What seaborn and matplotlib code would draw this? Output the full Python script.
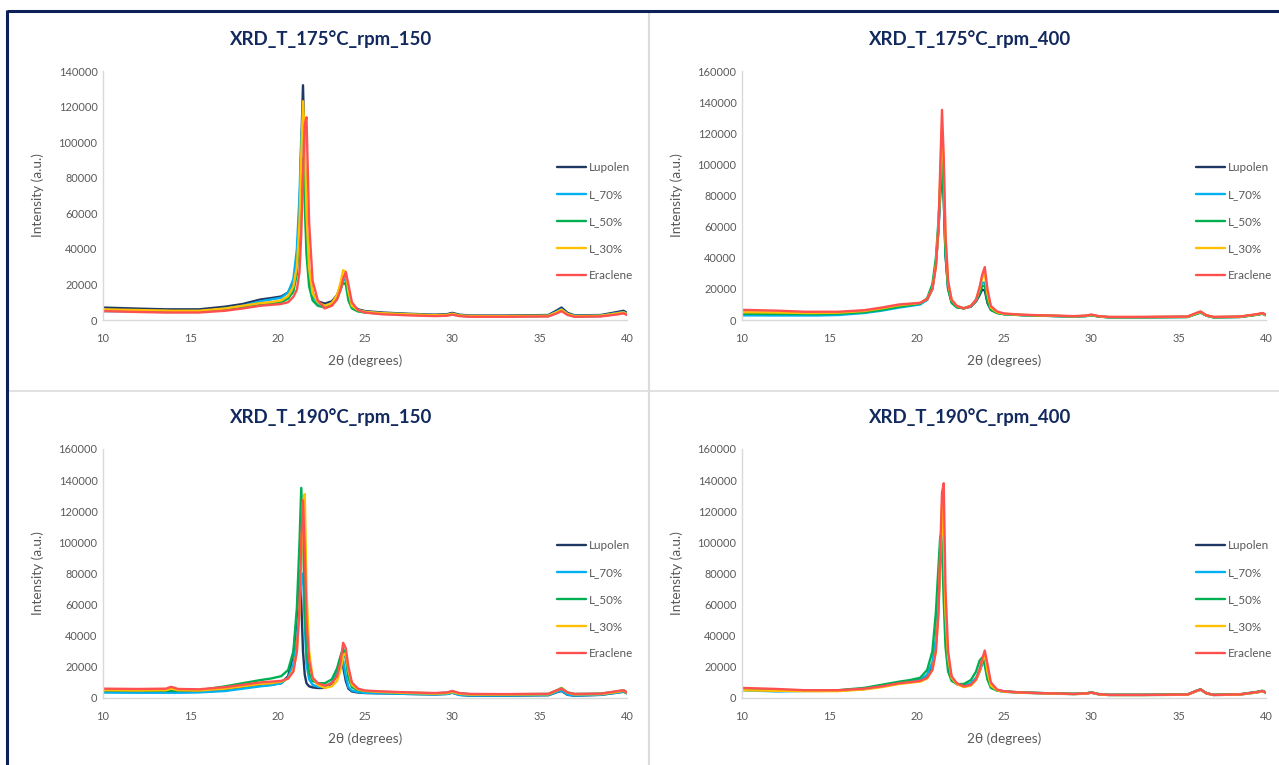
import matplotlib
matplotlib.use("Agg")
import matplotlib.pyplot as plt
from matplotlib.lines import Line2D
import pandas as pd
import seaborn as sns

# Diffraction angle grid (2θ, degrees) shared by every pattern
two_theta = [10, 12, 13.6, 13.9, 14.3, 15.5, 17, 18, 19, 19.6,
             20.2, 20.6, 20.9, 21.1, 21.25, 21.35, 21.45, 21.55, 21.65, 21.8, 22.0, 22.3,
             22.7, 23.1, 23.4, 23.6, 23.75, 23.9, 24.05, 24.25, 24.6, 25,
             26, 27.5, 29, 29.7, 30, 30.4, 31, 33, 35.5, 36, 36.25, 36.6, 37, 38.5, 39.5, 39.8, 40]

samples = ["Lupolen", "L_70%", "L_50%", "L_30%", "Eraclene"]
sample_colors = ["#1f3864", "#00b0f0", "#00b050", "#ffc000", "#ff5050"]

# Intensities in thousands of counts
# --- T = 175 °C, 150 rpm ---
lup_175_150 = [7.0, 6.4, 6.0, 6.0, 6.0, 6.0, 7.5, 9.0, 11.5, 12.3,
               13.2, 15.5, 21, 34, 60, 98, 132, 92, 52, 27, 15, 10.5,
               9.2, 10.5, 14, 19, 24, 25.5, 15, 8.5, 6.0, 5.0,
               4.2, 3.5, 3.0, 3.3, 4.0, 3.0, 2.5, 2.5, 2.8, 5.5, 7.0, 4.0, 2.6, 2.8, 4.6, 5.2, 4.0]
l70_175_150 = [5.0, 4.8, 4.5, 4.5, 4.5, 4.6, 6.5, 8.0, 10.5, 11.5,
               12.5, 15.5, 23, 40, 70, 103, 112, 78, 44, 23, 13, 9.5,
               8.0, 9.5, 13, 18, 22, 23, 14, 8.0, 5.5, 4.6,
               3.8, 3.2, 2.7, 2.9, 3.5, 2.6, 2.2, 2.2, 2.4, 4.8, 6.0, 3.5, 2.3, 2.5, 4.0, 4.5, 3.5]
l50_175_150 = [5.5, 5.3, 5.0, 5.0, 5.0, 5.0, 6.0, 7.0, 8.5, 9.0,
               10, 12, 16, 26, 48, 80, 91, 66, 37, 19, 11, 8.0,
               7.0, 8.5, 12, 17, 21, 20, 11, 6.5, 4.8, 4.2,
               3.5, 3.0, 2.5, 2.7, 3.3, 2.4, 2.0, 2.0, 2.2, 4.3, 5.5, 3.2, 2.0, 2.2, 3.5, 4.0, 3.0]
l30_175_150 = [6.0, 5.6, 5.3, 5.2, 5.2, 5.2, 6.5, 8.0, 9.5, 10.0,
               11, 13.5, 19, 30, 55, 92, 123, 104, 60, 29, 15, 10,
               8.0, 9.5, 14, 21, 28, 27, 16, 8.0, 5.5, 4.6,
               3.8, 3.2, 2.7, 2.9, 3.5, 2.6, 2.2, 2.2, 2.4, 4.5, 5.8, 3.3, 2.2, 2.4, 3.8, 4.3, 3.3]
era_175_150 = [5.0, 4.5, 4.2, 4.2, 4.2, 4.2, 5.2, 6.5, 8.0, 8.5,
               9.0, 10, 13, 17, 27, 48, 82, 110, 114, 55, 22, 11,
               6.5, 8.0, 11.5, 17, 23, 27, 20, 10, 5.5, 4.2,
               3.2, 2.6, 2.2, 2.4, 3.0, 2.2, 1.8, 1.8, 2.0, 3.8, 5.0, 2.8, 1.8, 2.0, 3.2, 3.8, 2.8]

# --- T = 175 °C, 400 rpm ---
lup_175_400 = [4.5, 4.3, 4.1, 4.1, 4.1, 4.3, 5.5, 7.0, 9.0, 9.8,
               10.5, 13, 20, 36, 58, 80, 99, 78, 42, 20, 11.5, 8.5,
               7.5, 8.5, 12, 16, 19.5, 19, 11, 6.5, 4.6, 3.8,
               3.2, 2.7, 2.3, 2.6, 3.2, 2.3, 1.8, 1.8, 2.0, 4.0, 5.0, 2.8, 1.8, 2.0, 3.5, 4.2, 3.2]
l70_175_400 = [3.0, 2.9, 2.9, 2.9, 2.9, 3.2, 4.5, 6.0, 8.0, 9.0,
               10, 13, 20, 36, 60, 85, 108, 84, 45, 21, 12, 8.5,
               7.5, 9.0, 13, 19, 24, 24, 13, 7.0, 4.8, 3.8,
               3.2, 2.7, 2.3, 2.6, 3.2, 2.3, 1.8, 1.8, 2.0, 4.0, 5.0, 2.8, 1.8, 2.0, 3.5, 4.2, 3.2]
l50_175_400 = [4.0, 3.9, 3.8, 3.8, 3.8, 4.0, 5.0, 6.5, 8.5, 9.5,
               10.5, 14, 23, 40, 64, 86, 103, 78, 42, 20, 11, 8.0,
               7.5, 9.0, 12.5, 17, 22, 22, 12, 6.5, 4.5, 3.7,
               3.1, 2.6, 2.2, 2.5, 3.1, 2.2, 1.7, 1.7, 1.9, 3.8, 4.8, 2.7, 1.7, 1.9, 3.4, 4.0, 3.0]
l30_175_400 = [5.0, 4.8, 4.5, 4.5, 4.5, 4.7, 5.8, 7.5, 9.5, 10.2,
               11, 13.5, 20, 35, 60, 92, 124, 98, 52, 24, 13, 9.0,
               7.5, 9.0, 13, 20, 27, 30, 17, 8.0, 5.0, 4.0,
               3.3, 2.8, 2.4, 2.7, 3.3, 2.4, 1.9, 1.9, 2.1, 4.2, 5.2, 2.9, 1.9, 2.1, 3.6, 4.3, 3.3]
era_175_400 = [6.5, 6.0, 5.3, 5.3, 5.3, 5.3, 6.3, 8.0, 10.0, 10.5,
               11, 13.5, 20, 34, 60, 98, 135, 104, 55, 25, 13, 9.0,
               7.5, 9.0, 13, 21, 29, 34, 20, 9.0, 5.5, 4.2,
               3.4, 2.9, 2.5, 2.8, 3.5, 2.5, 2.0, 2.0, 2.2, 4.5, 5.5, 3.0, 2.0, 2.2, 3.8, 4.5, 3.4]

# --- T = 190 °C, 150 rpm ---
lup_190_150 = [4.0, 3.8, 3.8, 3.8, 3.8, 4.0, 5.0, 6.5, 8.0, 8.5,
               9.5, 14, 28, 52, 82, 62, 30, 15, 9.5, 7.5, 6.8, 6.4,
               6.5, 9.0, 16, 23, 20, 11, 6.0, 4.2, 3.5, 3.2,
               3.0, 2.6, 2.3, 2.6, 3.4, 2.0, 1.5, 1.5, 1.8, 3.8, 4.5, 2.0, 1.5, 2.0, 3.5, 4.0, 3.0]
l70_190_150 = [3.5, 3.4, 3.4, 3.4, 3.4, 3.6, 4.5, 6.0, 7.5, 8.2,
               9.5, 13, 22, 38, 58, 76, 80, 48, 22, 12, 8.5, 7.2,
               7.0, 10, 17, 26, 24, 14, 7.0, 4.8, 3.8, 3.3,
               3.0, 2.6, 2.3, 2.6, 3.4, 2.0, 1.6, 1.6, 1.9, 4.0, 4.8, 2.2, 1.6, 2.1, 3.6, 4.2, 3.1]
l50_190_150 = [5.0, 4.8, 4.8, 4.8, 4.8, 5.0, 7.5, 9.5, 11.5, 12.5,
               14, 18, 30, 58, 100, 135, 105, 58, 30, 16, 11, 9.5,
               9.5, 12, 19, 27, 32, 25, 13, 7.0, 5.0, 4.5,
               4.0, 3.4, 3.0, 3.4, 4.2, 3.0, 2.5, 2.4, 2.6, 5.0, 6.5, 3.5, 2.6, 2.8, 4.3, 5.0, 3.5]
l30_190_150 = [5.0, 4.8, 5.0, 6.0, 5.0, 4.8, 6.0, 7.5, 9.0, 9.5,
               10.5, 12.5, 18, 30, 56, 92, 126, 131, 70, 30, 13, 8.5,
               6.5, 7.5, 11, 18, 27, 29, 18, 8.5, 5.5, 4.5,
               3.8, 3.2, 2.8, 3.1, 3.9, 2.7, 2.2, 2.2, 2.4, 4.8, 6.2, 3.4, 2.3, 2.5, 4.0, 4.7, 3.4]
era_190_150 = [6.0, 5.8, 6.0, 7.2, 5.8, 5.6, 7.0, 8.5, 10.0, 10.5,
               11, 12.5, 17, 30, 58, 100, 127, 95, 50, 24, 13, 9.5,
               8.0, 9.5, 14, 23, 35.5, 32, 20, 10, 6.0, 4.8,
               4.2, 3.6, 3.2, 3.6, 4.5, 3.2, 2.6, 2.5, 2.7, 5.0, 6.0, 3.5, 2.6, 2.8, 4.5, 5.0, 3.6]

# --- T = 190 °C, 400 rpm ---
lup_190_400 = [5.5, 5.0, 4.8, 4.8, 4.8, 4.8, 5.8, 7.5, 9.5, 10.5,
               11.5, 14, 20, 34, 60, 90, 113, 90, 50, 24, 13, 9.0,
               7.5, 8.5, 12, 17, 22, 24, 14, 7.5, 5.0, 4.2,
               3.5, 3.0, 2.6, 2.9, 3.5, 2.5, 2.0, 2.0, 2.2, 4.5, 5.5, 3.0, 2.0, 2.3, 3.8, 4.5, 3.4]
l70_190_400 = [5.0, 4.2, 4.5, 4.5, 4.5, 4.7, 5.8, 7.5, 9.5, 10.5,
               11.5, 15, 23, 38, 63, 92, 109, 86, 48, 23, 12.5, 9.0,
               8.0, 9.5, 13, 18, 22.5, 23, 13, 7.0, 4.8, 4.0,
               3.4, 2.9, 2.5, 2.8, 3.4, 2.4, 1.9, 1.9, 2.1, 4.3, 5.3, 2.9, 1.9, 2.2, 3.6, 4.3, 3.3]
l50_190_400 = [5.5, 5.0, 4.8, 4.8, 4.8, 5.0, 6.5, 8.5, 10.5, 11.5,
               13, 18, 30, 55, 85, 104, 98, 62, 33, 17, 11, 9.0,
               9.0, 11.5, 17, 24, 26, 21, 12, 6.5, 4.8, 4.2,
               3.6, 3.1, 2.7, 3.0, 3.7, 2.6, 2.1, 2.1, 2.3, 4.6, 5.6, 3.1, 2.1, 2.4, 4.0, 4.7, 3.5]
l30_190_400 = [5.0, 4.6, 4.4, 4.4, 4.4, 4.4, 5.5, 7.0, 9.0, 9.8,
               10.5, 12.5, 18, 30, 56, 92, 124, 100, 55, 26, 13, 9.0,
               7.0, 8.0, 11.5, 17, 24, 28, 17, 8.0, 5.0, 4.0,
               3.4, 2.9, 2.5, 2.8, 3.4, 2.4, 1.9, 1.9, 2.1, 4.3, 5.3, 2.9, 1.9, 2.2, 3.6, 4.3, 3.3]
era_190_400 = [6.5, 5.8, 5.0, 5.0, 5.0, 5.0, 6.0, 7.5, 9.5, 10.2,
               11, 13, 18, 30, 55, 95, 132, 138, 70, 30, 14, 9.5,
               7.5, 8.5, 12, 18, 25, 30.5, 22, 10, 5.5, 4.3,
               3.5, 3.0, 2.6, 2.9, 3.5, 2.5, 2.0, 2.0, 2.2, 4.5, 5.5, 3.0, 2.0, 2.3, 3.8, 4.5, 3.4]

panel_titles = ["XRD_T_175°C_rpm_150", "XRD_T_175°C_rpm_400",
                "XRD_T_190°C_rpm_150", "XRD_T_190°C_rpm_400"]
panel_series = [
    [lup_175_150, l70_175_150, l50_175_150, l30_175_150, era_175_150],
    [lup_175_400, l70_175_400, l50_175_400, l30_175_400, era_175_400],
    [lup_190_150, l70_190_150, l50_190_150, l30_190_150, era_190_150],
    [lup_190_400, l70_190_400, l50_190_400, l30_190_400, era_190_400],
]
panel_ymax = [140000, 160000, 160000, 160000]
x_ticks = [10, 15, 20, 25, 30, 35, 40]

sns.set_theme(style="white")
plt.rcParams["font.family"] = ["Lato", "DejaVu Sans"]

W, H = 1279, 765
fig = plt.figure(figsize=(W / 100, H / 100), dpi=100)
fig.patch.set_facecolor("white")

TEXT_GREY = "#595959"
AXIS_GREY = "#d9d9d9"
NAVY = "#0c2158"

# plot-area placement in pixels: (left, bottom-of-axis y)
ax_w, ax_h = 524, 249
origins = [(103, 320), (742, 320), (103, 698), (742, 698)]
title_pos = [(331, 39), (970, 39), (331, 417), (970, 417)]

palette = dict(zip(samples, sample_colors))

for i in range(4):
    x0, ybase = origins[i]
    ax = fig.add_axes([x0 / W, 1 - ybase / H, ax_w / W, ax_h / H])
    rows = []
    for name, series in zip(samples, panel_series[i]):
        for t, v in zip(two_theta, series):
            rows.append({"two_theta": t, "kcounts": v, "sample": name})
    df = pd.DataFrame(rows)
    df["intensity"] = df["kcounts"] * 1000

    sns.lineplot(data=df, x="two_theta", y="intensity", hue="sample",
                 hue_order=samples, palette=palette, estimator=None,
                 linewidth=1.7, legend=False, ax=ax)

    ax.set_xlim(10, 40)
    ax.set_ylim(0, panel_ymax[i])
    ax.set_xticks(x_ticks)
    ax.set_yticks(list(range(0, panel_ymax[i] + 1, 20000)))
    ax.tick_params(axis="both", length=0, labelsize=7.9, colors=TEXT_GREY)
    ax.tick_params(axis="x", pad=9)
    ax.tick_params(axis="y", pad=4)
    for side in ["top", "right"]:
        ax.spines[side].set_visible(False)
    for side in ["left", "bottom"]:
        ax.spines[side].set_color(AXIS_GREY)
        ax.spines[side].set_linewidth(1.0)

    ax.set_xlabel("2θ (degrees)", fontsize=9.8, color=TEXT_GREY)
    ax.set_ylabel("Intensity (a.u.)", fontsize=9.8, color=TEXT_GREY)
    ax.xaxis.set_label_coords(0.5, -41 / ax_h)
    ax.yaxis.set_label_coords(-65 / ax_w, 0.5)
    ax.xaxis.label.set_va("center")
    ax.yaxis.label.set_va("center")

    handles = [Line2D([0], [0], color=c, lw=1.7) for c in sample_colors]
    leg = ax.legend(handles, samples, loc="center left",
                    bbox_to_anchor=((x0 + 454) / W, 1 - (ybase - 98.5) / H),
                    bbox_transform=fig.transFigure, frameon=False,
                    fontsize=8.4, handlelength=2.45, handletextpad=0.27,
                    labelspacing=1.36, borderpad=0, borderaxespad=0)
    for txt in leg.get_texts():
        txt.set_color(TEXT_GREY)

    tx, ty = title_pos[i]
    fig.text(tx / W, 1 - ty / H, panel_titles[i], ha="center", va="center",
             fontsize=13.4, fontweight="bold", color="#12295e")

# panel dividers
fig.add_artist(Line2D([649 / W, 649 / W], [0, 1 - 12 / H], transform=fig.transFigure,
                      color="#dcdcdc", lw=1.6))
fig.add_artist(Line2D([8 / W, 1], [1 - 391 / H, 1 - 391 / H], transform=fig.transFigure,
                      color="#dcdcdc", lw=1.2))
# outer frame along the top and left edges
fig.add_artist(Line2D([7 / W, 1], [1 - 11 / H, 1 - 11 / H], transform=fig.transFigure,
                      color=NAVY, lw=2.2, solid_capstyle="butt"))
fig.add_artist(Line2D([7 / W, 7 / W], [0, 1 - 10 / H], transform=fig.transFigure,
                      color=NAVY, lw=2.2, solid_capstyle="butt"))

fig.savefig("out.png", dpi=100, facecolor="white")
